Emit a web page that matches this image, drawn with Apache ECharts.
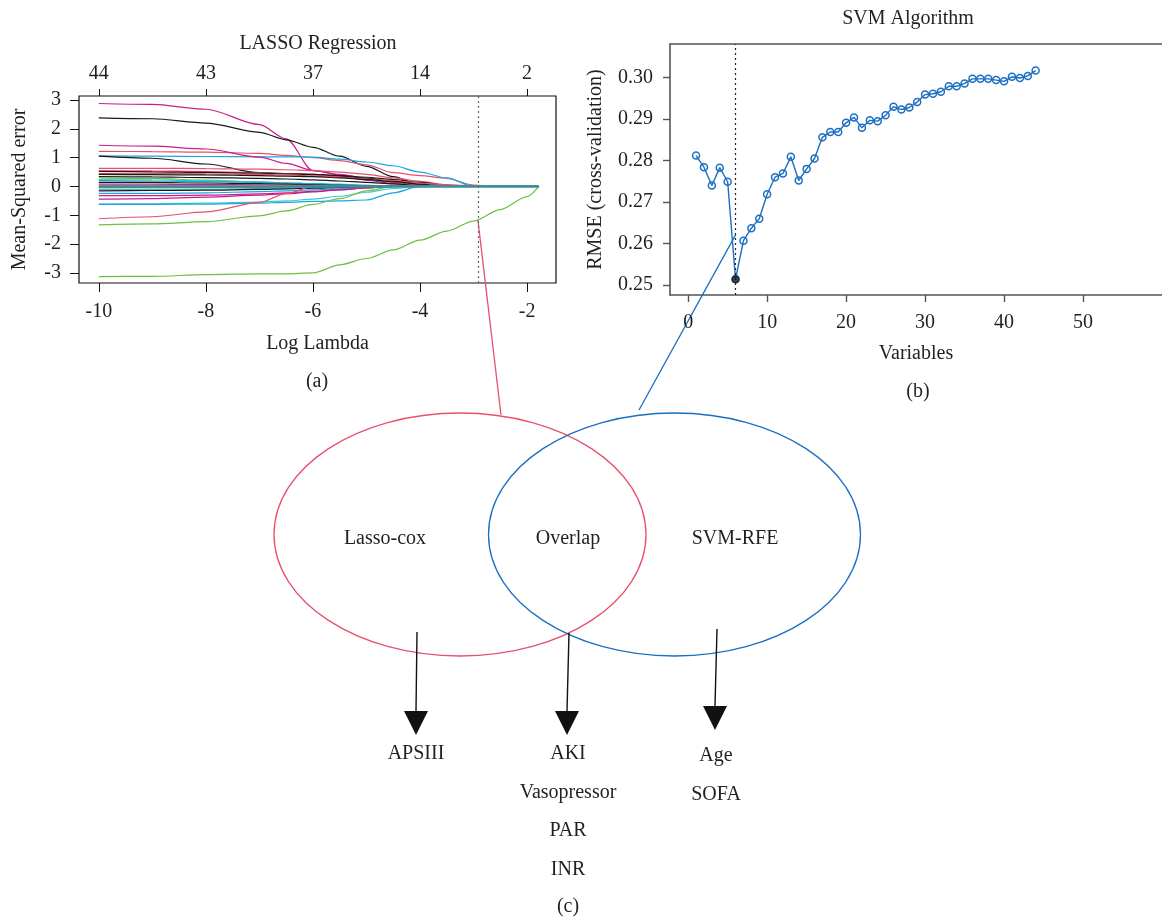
<!DOCTYPE html>
<html>
<head>
<meta charset="utf-8">
<script src="https://cdn.jsdelivr.net/npm/echarts@6/dist/echarts.min.js"></script>
<style>
html,body{margin:0;padding:0;background:#fff;}
#main{width:1162px;height:919px;}
</style>
</head>
<body>
<div id="main"></div>
<script>
// ---------------- DATA ----------------
const lambdaGrid = [-10, -9, -8, -7, -6.5, -6, -5.5, -5, -4.5, -4, -3.5, -3, -2.5, -2, -1.78];
const lassoTickValues = [-10, -8, -6, -4, -2];
const lassoTopLabels = ['44', '43', '37', '14', '2'];
const lassoYTicks = [-3, -2, -1, 0, 1, 2, 3];
const lassoCutoff = -2.92;
const lassoLinkValue = -1.14;

const lassoPaths = [
  [2.88, 2.85, 2.68, 2.15, 1.65, 0.55, 0.42, 0.28, 0.15, 0.05, 0, 0, 0, 0, 0],
  [2.38, 2.35, 2.2, 1.88, 1.62, 1.36, 1.05, 0.7, 0.34, 0.05, 0, 0, 0, 0, 0],
  [1.22, 1.21, 1.19, 1.15, 1.08, 1.0, 0.9, 0.75, 0.48, 0.38, 0.28, 0.05, 0, 0, 0],
  [1.06, 1.05, 1.04, 1.03, 1.03, 1.02, 0.95, 0.85, 0.72, 0.5, 0.3, 0, 0, 0, 0],
  [1.43, 1.4, 1.3, 1.02, 0.8, 0.56, 0.4, 0.22, 0.1, 0.02, 0, 0, 0, 0, 0],
  [1.05, 0.98, 0.78, 0.48, 0.45, 0.42, 0.36, 0.28, 0.18, 0.06, 0, 0, 0, 0, 0],
  [0.63, 0.63, 0.62, 0.6, 0.58, 0.55, 0.5, 0.42, 0.3, 0.18, 0.06, 0, 0, 0, 0],
  [0.55, 0.54, 0.52, 0.48, 0.45, 0.4, 0.33, 0.25, 0.15, 0.05, 0, 0, 0, 0, 0],
  [0.52, 0.51, 0.49, 0.46, 0.44, 0.42, 0.38, 0.32, 0.24, 0.14, 0.04, 0, 0, 0, 0],
  [0.45, 0.45, 0.44, 0.42, 0.4, 0.37, 0.32, 0.26, 0.2, 0.12, 0.06, 0.02, 0.01, 0, 0],
  [0.42, 0.41, 0.4, 0.38, 0.36, 0.34, 0.3, 0.24, 0.17, 0.08, 0, 0, 0, 0, 0],
  [0.34, 0.33, 0.31, 0.28, 0.26, 0.23, 0.19, 0.14, 0.09, 0.03, 0, 0, 0, 0, 0],
  [0.3, 0.28, 0.22, 0.15, 0.11, 0.07, 0.04, 0.01, 0, 0, 0, 0, 0, 0, 0],
  [0.24, 0.23, 0.2, 0.16, 0.13, 0.1, 0.07, 0.04, 0.01, 0, 0, 0, 0, 0, 0],
  [0.2, 0.19, 0.17, 0.14, 0.12, 0.1, 0.07, 0.04, 0.02, 0, 0, 0, 0, 0, 0],
  [0.14, 0.14, 0.12, 0.1, 0.08, 0.06, 0.04, 0.02, 0, 0, 0, 0, 0, 0, 0],
  [0.08, 0.08, 0.07, 0.06, 0.05, 0.04, 0.02, 0.01, 0, 0, 0, 0, 0, 0, 0],
  [0.03, 0.03, 0.03, 0.02, 0.02, 0.01, 0.01, 0, 0, 0, 0, 0, 0, 0, 0],
  [-0.04, -0.04, -0.03, -0.03, -0.02, -0.02, -0.01, 0, 0, 0, 0, 0, 0, 0, 0],
  [-0.1, -0.1, -0.09, -0.07, -0.06, -0.04, -0.02, -0.01, 0, 0, 0, 0, 0, 0, 0],
  [-0.15, -0.14, -0.13, -0.1, -0.08, -0.06, -0.04, -0.02, 0, 0, 0, 0, 0, 0, 0],
  [-0.24, -0.24, -0.22, -0.18, -0.15, -0.12, -0.08, -0.04, 0, 0, 0, 0, 0, 0, 0],
  [-0.32, -0.32, -0.3, -0.26, -0.22, -0.17, -0.11, -0.05, 0, 0, 0, 0, 0, 0, 0],
  [-0.44, -0.42, -0.37, -0.3, -0.25, -0.19, -0.12, -0.05, 0, 0, 0, 0, 0, 0, 0],
  [-0.61, -0.6, -0.58, -0.54, -0.5, -0.44, -0.34, -0.2, -0.07, 0, 0, 0, 0, 0, 0],
  [-0.62, -0.62, -0.61, -0.58, -0.55, -0.52, -0.5, -0.47, -0.22, 0, 0, 0, 0, 0, 0],
  [-1.12, -1.05, -0.88, -0.55, -0.25, 0, 0, 0, 0, 0, 0, 0, 0, 0, 0],
  [-1.33, -1.3, -1.22, -1.02, -0.85, -0.62, -0.42, -0.15, 0, 0, 0, 0, 0, 0, 0],
  [-3.13, -3.12, -3.06, -3.03, -3.03, -3.0, -2.72, -2.5, -2.2, -1.86, -1.55, -1.2, -0.8, -0.35, 0],
  [0, 0, 0, 0, 0, 0, 0, 0, 0, 0, 0, 0, 0, 0, 0]
];

const svmVars = [1, 2, 3, 4, 5, 6, 7, 8, 9, 10, 11, 12, 13, 14, 15, 16, 17, 18, 19, 20, 21, 22,
  23, 24, 25, 26, 27, 28, 29, 30, 31, 32, 33, 34, 35, 36, 37, 38, 39, 40, 41, 42, 43, 44];
const svmRmse = [0.2812, 0.2784, 0.2740, 0.2783, 0.2749, 0.2514, 0.2607, 0.2637, 0.2660, 0.2719,
  0.2760, 0.2769, 0.2809, 0.2752, 0.2780, 0.2805, 0.2856, 0.2869, 0.2869, 0.2891,
  0.2904, 0.2879, 0.2897, 0.2895, 0.2909, 0.2930, 0.2923, 0.2928, 0.2941, 0.2959,
  0.2961, 0.2966, 0.2979, 0.2979, 0.2986, 0.2997, 0.2997, 0.2997, 0.2994, 0.2991,
  0.3002, 0.2999, 0.3004, 0.3017];
const svmBest = 6;
const svmLinkValue = 0.2621;
const svmXTicks = [0, 10, 20, 30, 40, 50];
const svmYTicks = [0.25, 0.26, 0.27, 0.28, 0.29, 0.30];

const vennSets = ['Lasso-cox', 'Overlap', 'SVM-RFE'];
const lassoOnlyVars = ['APSIII'];
const overlapVars = ['AKI', 'Vasopressor', 'PAR', 'INR'];
const svmOnlyVars = ['Age', 'SOFA'];

// ---------------- STYLE ----------------
const K = '#1a1a1a', P = '#E8506E', G = '#6CC040', B = '#1AA7E0', C = '#3CC8CC', M = '#CC1C8C';
const pathColors = [M, K, P, B, M, K, P, P, K, P, K, K, G, C, B, K, M, G, P, C, K, B, M, M, C, B, P, G, G, '#3a9098'];
const FONT = "'Liberation Serif', 'DejaVu Serif', serif";
const TXT = '#231f20';
const SVMBLUE = '#1B6FC2';
const BOXGRAY = '#555';

const chart = echarts.init(document.getElementById('main'), null, {renderer: 'canvas'});

const lassoSeries = lassoPaths.map((vals, i) => ({
  type: 'line',
  xAxisIndex: 0, yAxisIndex: 0,
  data: vals.map((v, j) => [lambdaGrid[j], v]),
  showSymbol: false,
  smooth: 0.3, smoothMonotone: 'x',
  silent: true,
  lineStyle: {color: pathColors[i], width: i === lassoPaths.length - 1 ? 2.5 : 1.2},
  z: i === lassoPaths.length - 1 ? 3 : 2,
  markLine: i === lassoPaths.length - 1 ? {
    silent: true, symbol: 'none', label: {show: false},
    lineStyle: {color: '#666', type: [2, 3], width: 1.2},
    data: [{xAxis: lassoCutoff}]
  } : undefined
}));

function txt(text, x, y, size) {
  return {type: 'text', x: x, y: y + 2, silent: true,
    style: {text: text, fill: TXT, fontFamily: FONT, fontSize: size || 20, align: 'center', verticalAlign: 'middle'}};
}

const graphics = [
  txt('LASSO Regression', 318, 42),
  txt('(a)', 317, 380),
  txt('SVM Algorithm', 908, 17),
  txt('(b)', 918, 390),
  txt('(c)', 568, 905),
  {type: 'ellipse', silent: true, shape: {cx: 460, cy: 534.5, rx: 186, ry: 121.5}, style: {fill: 'none', stroke: P, lineWidth: 1.3}},
  {type: 'ellipse', silent: true, shape: {cx: 674.5, cy: 534.5, rx: 186, ry: 121.5}, style: {fill: 'none', stroke: SVMBLUE, lineWidth: 1.3}},
  txt(vennSets[0], 385, 537),
  txt(vennSets[1], 568, 537),
  txt(vennSets[2], 735, 537)
];

function arrow(x1, y1, x2, y2) {
  return [
    {type: 'line', silent: true, shape: {x1: x1, y1: y1, x2: x2, y2: y2}, style: {stroke: '#111', lineWidth: 1.4}},
    {type: 'polygon', silent: true, shape: {points: [[x2 - 12, y2], [x2 + 12, y2], [x2, y2 + 24]]}, style: {fill: '#111'}}
  ];
}
graphics.push(...arrow(417, 632, 416, 711));
graphics.push(...arrow(569, 633, 567, 711));
graphics.push(...arrow(717, 629, 715, 706));

lassoOnlyVars.forEach((t, i) => graphics.push(txt(t, 416, 752 + i * 38)));
overlapVars.forEach((t, i) => graphics.push(txt(t, 568, 752 + i * 38.5)));
svmOnlyVars.forEach((t, i) => graphics.push(txt(t, 716, 754 + i * 39)));

const axisLabelStyle = {fontFamily: FONT, fontSize: 20, color: TXT};
const hiddenLine = {show: false, onZero: false};
const svmLine = {show: true, onZero: false, lineStyle: {color: BOXGRAY, width: 1.6}};

const option = {
  animation: false,
  backgroundColor: '#fff',
  grid: [
    {left: 79, top: 96, width: 477, height: 187, show: true, borderColor: '#111', borderWidth: 1.2},
    {left: 670, top: 44, width: 567, height: 251, show: false}
  ],
  xAxis: [
    {type: 'value', gridIndex: 0, min: -10.37, max: -1.46, position: 'bottom',
      axisLine: hiddenLine, splitLine: {show: false},
      axisTick: {show: true, inside: false, length: 9, customValues: lassoTickValues, lineStyle: {color: '#111'}},
      axisLabel: {customValues: lassoTickValues, margin: 19, ...axisLabelStyle},
      name: 'Log Lambda', nameLocation: 'middle', nameGap: 51,
      nameTextStyle: {fontFamily: FONT, fontSize: 20, color: TXT}},
    {type: 'value', gridIndex: 0, min: -10.37, max: -1.46, position: 'top',
      axisLine: hiddenLine, splitLine: {show: false},
      axisTick: {show: true, inside: false, length: 7, customValues: lassoTickValues, lineStyle: {color: '#111'}},
      axisLabel: {customValues: lassoTickValues, margin: 12, ...axisLabelStyle,
        formatter: v => lassoTopLabels[lassoTickValues.indexOf(v)]}},
    {type: 'value', gridIndex: 1, min: -2.3, max: 60, position: 'bottom',
      axisLine: svmLine, splitLine: {show: false},
      axisTick: {show: true, inside: false, length: 7, customValues: svmXTicks, lineStyle: {color: BOXGRAY, width: 1.4}},
      axisLabel: {customValues: svmXTicks, margin: 18, ...axisLabelStyle},
      name: 'Variables', nameLocation: 'middle', nameGap: 49,
      nameTextStyle: {fontFamily: FONT, fontSize: 20, color: TXT}},
    {type: 'value', gridIndex: 1, min: -2.3, max: 60, position: 'top',
      axisLine: svmLine, splitLine: {show: false},
      axisTick: {show: false}, axisLabel: {show: false}}
  ],
  yAxis: [
    {type: 'value', gridIndex: 0, min: -3.35, max: 3.14, position: 'left',
      axisLine: hiddenLine, splitLine: {show: false},
      axisTick: {show: true, inside: false, length: 9, customValues: lassoYTicks, lineStyle: {color: '#111'}},
      axisLabel: {customValues: lassoYTicks, margin: 18, ...axisLabelStyle},
      name: 'Mean-Squared error', nameLocation: 'middle', nameGap: 49, nameRotate: 90,
      nameTextStyle: {fontFamily: FONT, fontSize: 20, color: TXT}},
    {type: 'value', gridIndex: 1, min: 0.2476, max: 0.3081, position: 'left',
      axisLine: svmLine, splitLine: {show: false},
      axisTick: {show: true, inside: false, length: 7, customValues: svmYTicks, lineStyle: {color: BOXGRAY, width: 1.4}},
      axisLabel: {customValues: svmYTicks, margin: 17, ...axisLabelStyle, formatter: v => v.toFixed(2)},
      name: 'RMSE (cross-validation)', nameLocation: 'middle', nameGap: 64, nameRotate: 90,
      nameTextStyle: {fontFamily: FONT, fontSize: 20, color: TXT}}
  ],
  series: [
    ...lassoSeries,
    {type: 'line', xAxisIndex: 2, yAxisIndex: 1,
      data: svmVars.map((v, i) => [v, svmRmse[i]]),
      symbol: 'circle', symbolSize: 7, showSymbol: true,
      lineStyle: {color: SVMBLUE, width: 1.4},
      itemStyle: {color: 'rgba(255,255,255,0)', borderColor: SVMBLUE, borderWidth: 1.5},
      markLine: {silent: true, symbol: 'none', label: {show: false},
        lineStyle: {color: '#222', type: [2, 3], width: 1.2},
        data: [{xAxis: svmBest}]}},
    {type: 'scatter', xAxisIndex: 2, yAxisIndex: 1,
      data: [[svmBest, svmRmse[svmVars.indexOf(svmBest)]]],
      symbol: 'circle', symbolSize: 8, itemStyle: {color: '#111'}, z: 5}
  ],
  graphic: graphics
};

chart.setOption(option);

// connector lines from the selected points to the Venn circles
const pA = chart.convertToPixel({xAxisIndex: 0, yAxisIndex: 0}, [lassoCutoff, lassoLinkValue]);
const pB = chart.convertToPixel({xAxisIndex: 2, yAxisIndex: 1}, [svmBest, svmLinkValue]);
graphics.push({type: 'line', silent: true, shape: {x1: pA[0], y1: pA[1], x2: 501, y2: 415}, style: {stroke: P, lineWidth: 1.3}});
graphics.push({type: 'line', silent: true, shape: {x1: pB[0], y1: pB[1], x2: 639, y2: 410}, style: {stroke: SVMBLUE, lineWidth: 1.3}});
chart.setOption({graphic: graphics});
</script>
</body>
</html>
